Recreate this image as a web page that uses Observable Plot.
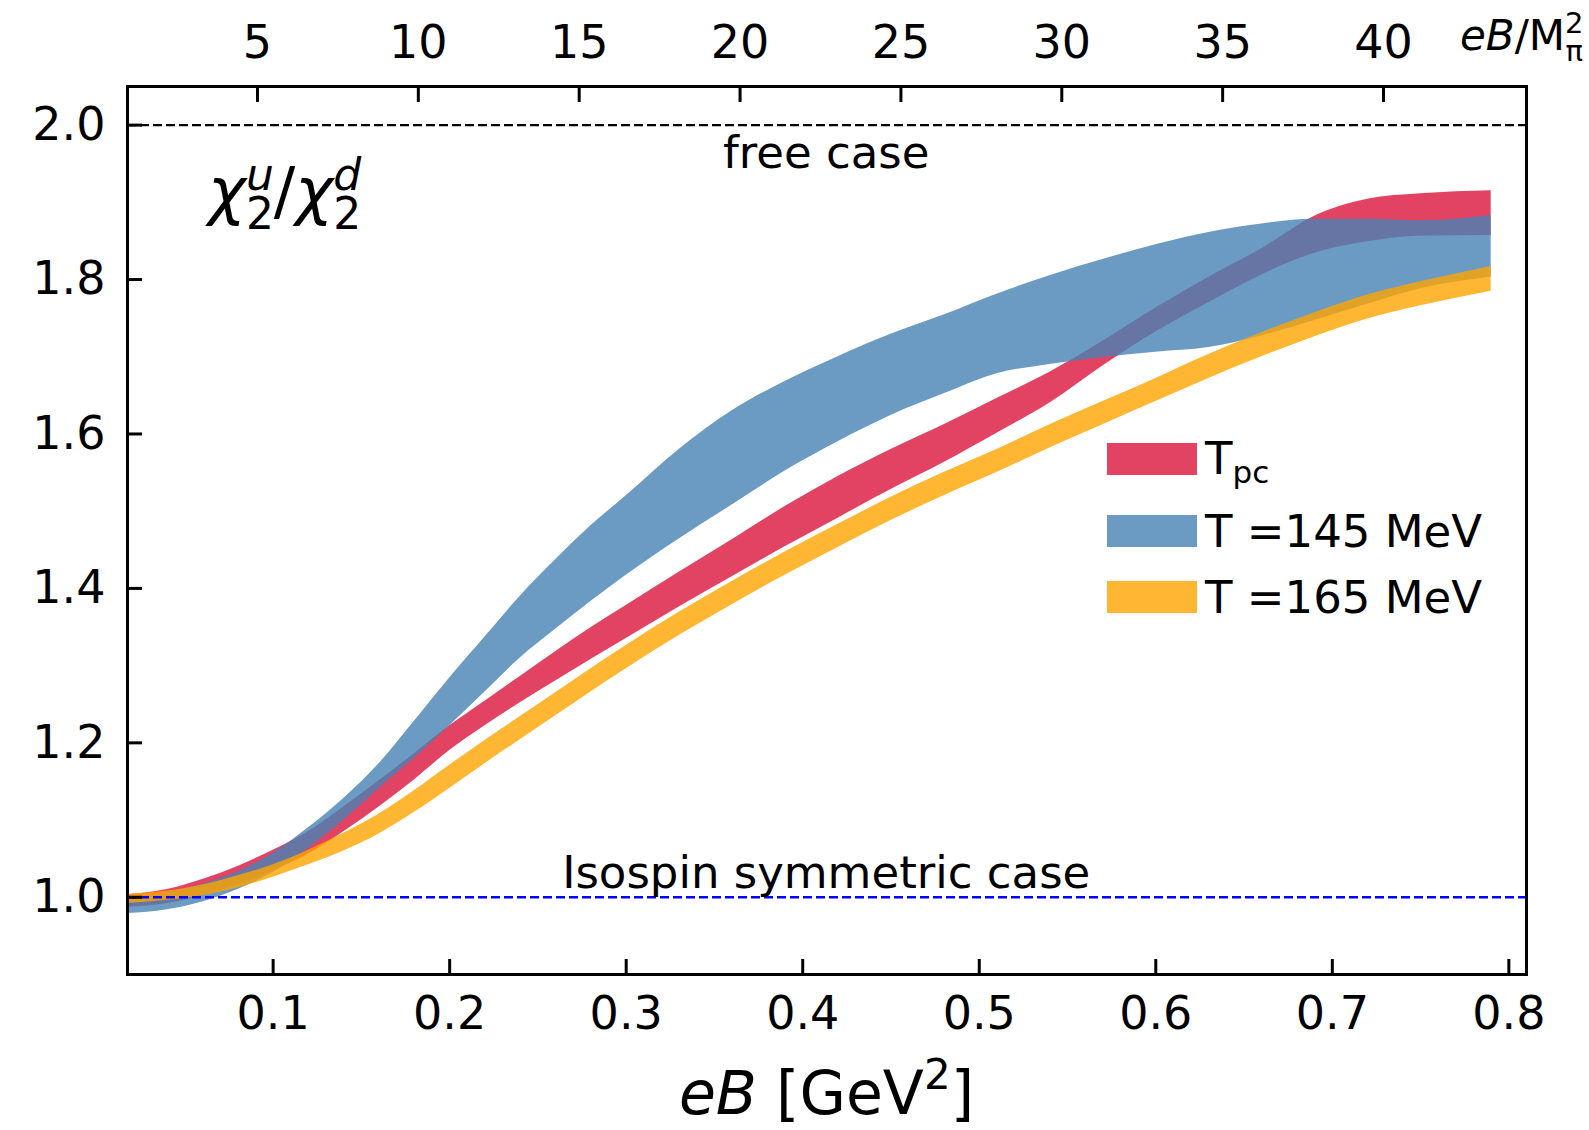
<!DOCTYPE html>
<html>
<head>
<meta charset="utf-8">
<script src="https://cdn.jsdelivr.net/npm/d3@7"></script>
<script src="https://cdn.jsdelivr.net/npm/@observablehq/plot@0.6"></script>
<style>
  html, body { margin: 0; padding: 0; background: #fff; }
  #wrap { width: 1589px; height: 1130px; }
</style>
</head>
<body>
<div id="wrap"></div>
<script>
// ---------------- data ----------------
const eB = [0.0175, 0.04, 0.06, 0.08, 0.10, 0.12, 0.14, 0.16, 0.18, 0.20, 0.22, 0.24, 0.26, 0.28, 0.30,
            0.33, 0.36, 0.39, 0.42, 0.45, 0.48, 0.51, 0.54, 0.57, 0.60, 0.63, 0.66, 0.69, 0.72, 0.75, 0.79];

const tpcHigh = [1.003, 1.010, 1.023, 1.040, 1.061, 1.085, 1.117, 1.151, 1.186, 1.222, 1.254, 1.286, 1.318, 1.349, 1.378,
                 1.421, 1.463, 1.506, 1.545, 1.580, 1.612, 1.646, 1.680, 1.720, 1.763, 1.803, 1.840, 1.882, 1.904, 1.911, 1.915];
const tpcLow  = [0.987, 0.992, 1.002, 1.016, 1.034, 1.056, 1.085, 1.117, 1.152, 1.190, 1.222, 1.252, 1.280, 1.308, 1.335,
                 1.376, 1.415, 1.454, 1.491, 1.528, 1.563, 1.601, 1.640, 1.688, 1.732, 1.770, 1.806, 1.834, 1.849, 1.856, 1.857];

const t145High = [0.997, 1.005, 1.017, 1.033, 1.057, 1.090, 1.128, 1.173, 1.228, 1.284, 1.337, 1.390, 1.437, 1.481, 1.520,
                  1.580, 1.630, 1.668, 1.700, 1.729, 1.754, 1.781, 1.805, 1.826, 1.845, 1.861, 1.872, 1.878, 1.878, 1.876, 1.883];
const t145Low  = [0.979, 0.984, 0.994, 1.010, 1.032, 1.063, 1.100, 1.141, 1.180, 1.222, 1.266, 1.310, 1.347, 1.383, 1.417,
                  1.464, 1.508, 1.552, 1.590, 1.624, 1.652, 1.678, 1.690, 1.699, 1.706, 1.712, 1.727, 1.747, 1.768, 1.788, 1.803];

const t165High = [1.004, 1.008, 1.016, 1.028, 1.042, 1.061, 1.083, 1.108, 1.138, 1.171, 1.203, 1.234, 1.265, 1.296, 1.326,
                  1.369, 1.409, 1.447, 1.483, 1.518, 1.550, 1.580, 1.612, 1.642, 1.672, 1.703, 1.731, 1.757, 1.780, 1.797, 1.817];
const t165Low  = [0.992, 0.996, 1.002, 1.012, 1.026, 1.042, 1.060, 1.082, 1.110, 1.141, 1.173, 1.204, 1.235, 1.266, 1.296,
                  1.339, 1.379, 1.417, 1.453, 1.488, 1.520, 1.550, 1.582, 1.612, 1.642, 1.672, 1.700, 1.726, 1.749, 1.766, 1.785];

const seriesNames = ["Tpc", "T =145 MeV", "T =165 MeV"];
const seriesColors = ["crimson", "steelblue", "orange"];

const xTicks = [0.1, 0.2, 0.3, 0.4, 0.5, 0.6, 0.7, 0.8];
const yTicks = [1.0, 1.2, 1.4, 1.6, 1.8, 2.0];
const topTicks = [5, 10, 15, 20, 25, 30, 35, 40];   // eB / M_pi^2
const Mpi = 0.135;                                   // GeV
const freeLevel = 2.0;
const isoLevel = 1.0;
const notes = [
  {label: "free case", x: 0.4133, y: 1.945},
  {label: "Isospin symmetric case", x: 0.4133, y: 1.0114}
];
const chiPos = {x: 0.0634, y: 1.886};

// ---------------- build ----------------
const M2 = Mpi * Mpi;
const band = (lo, hi) => eB.map((x, i) => ({x, lo: lo[i], hi: hi[i]}));
const bands = [band(tpcLow, tpcHigh), band(t145Low, t145High), band(t165Low, t165High)];
const fmt1 = d3.format(".1f");
const FONT = "'DejaVu Sans', sans-serif";

const chart = Plot.plot({
  width: 1589, height: 1130,
  marginLeft: 127, marginRight: 63, marginTop: 86, marginBottom: 156,
  x: {domain: [0.0175, 0.81]},
  y: {domain: [0.9, 2.05]},
  style: {fontFamily: FONT, fontSize: "46px", background: "white", color: "black"},
  marks: [
    ...bands.map((b, i) => Plot.areaY(b, {x: "x", y1: "lo", y2: "hi", fill: seriesColors[i], fillOpacity: 0.8, curve: "monotone-x"})),
    Plot.ruleY([freeLevel], {stroke: "black", strokeWidth: 2.2, strokeDasharray: "9,4"}),
    Plot.ruleY([isoLevel], {stroke: "blue", strokeWidth: 2.5, strokeDasharray: "9,4"}),
    Plot.text(notes, {x: "x", y: "y", text: "label", lineAnchor: "bottom", textAnchor: "middle", fontSize: 45, fill: "black"}),
    Plot.frame({stroke: "black", strokeWidth: 3}),
    // inward ticks
    Plot.axisX({ticks: xTicks, anchor: "bottom", tickSize: 15, dy: -15, fill: "none", strokeWidth: 3, label: null}),
    Plot.axisX({ticks: topTicks.map(t => t * M2), anchor: "top", tickSize: 15, dy: 15, fill: "none", strokeWidth: 3, label: null}),
    Plot.axisY({ticks: yTicks, anchor: "left", tickSize: 15, dx: 15, fill: "none", strokeWidth: 3, label: null}),
    // tick labels
    Plot.axisX({ticks: xTicks, anchor: "bottom", tickSize: 0, tickPadding: 22, tickFormat: fmt1, fontSize: 46, label: null}),
    Plot.axisX({ticks: topTicks.map(t => t * M2), anchor: "top", tickSize: 0, tickPadding: 29,
                tickFormat: d => String(Math.round(d / M2)), fontSize: 46, label: null}),
    Plot.axisY({ticks: yTicks, anchor: "left", tickSize: 0, tickPadding: 22, tickFormat: fmt1, fontSize: 46, label: null})
  ]
});
document.getElementById("wrap").appendChild(chart);

// ---------------- math-style texts & legend ----------------
const svg = d3.select(chart);
const xs = chart.scale("x"), ys = chart.scale("y");

function richText(x, y, size, anchor, parts) {
  const t = svg.append("text").attr("x", x).attr("y", y)
    .attr("font-family", FONT).attr("font-size", size).attr("fill", "black")
    .attr("text-anchor", anchor);
  for (const p of parts) {
    const s = t.append("tspan").text(p.t);
    if (p.size) s.attr("font-size", p.size);
    if (p.italic) s.attr("font-style", "italic");
    if (p.dx) s.attr("dx", p.dx);
    if (p.dy) s.attr("dy", p.dy);
  }
  return t;
}

// chi_2^u / chi_2^d
const cs = 64, ss = 44, w2 = 0.636 * ss;
richText(xs.apply(chiPos.x), ys.apply(chiPos.y), cs, "start", [
  {t: "χ", italic: true},
  {t: "2", size: ss, dy: 16},
  {t: "u", size: ss, italic: true, dx: -w2, dy: -38.5},
  {t: "/", size: cs, dy: 22.5},
  {t: "χ", italic: true},
  {t: "2", size: ss, dy: 16},
  {t: "d", size: ss, italic: true, dx: -w2, dy: -38.5}
]);

// bottom axis label: eB [GeV^2]
const [x0, x1] = xs.range;
richText((x0 + x1) / 2, 1114, 60, "middle", [
  {t: "eB", italic: true},
  {t: " [GeV"},
  {t: "2", size: 42, dy: -25},
  {t: "]", dy: 25}
]);

// top axis label: eB/M_pi^2
richText(1460, 50, 42, "start", [
  {t: "eB", italic: true},
  {t: "/M"},
  {t: "2", size: 29, dy: -17},
  {t: "π", size: 29, dx: -18, dy: 28}
]);

// legend
const lg = svg.append("g");
const rowsTop = [443, 515, 581];
seriesNames.forEach((name, i) => {
  lg.append("rect").attr("x", 1107).attr("y", rowsTop[i]).attr("width", 90).attr("height", 32)
    .attr("fill", seriesColors[i]).attr("fill-opacity", 0.8);
  const base = rowsTop[i] + 32;
  if (i === 0) {
    richText(1205, base - 1, 45, "start", [
      {t: "T"},
      {t: "pc", size: 31, dy: 9}
    ]);
  } else {
    richText(1205, base, 45, "start", [{t: name}]);
  }
});
</script>
</body>
</html>
